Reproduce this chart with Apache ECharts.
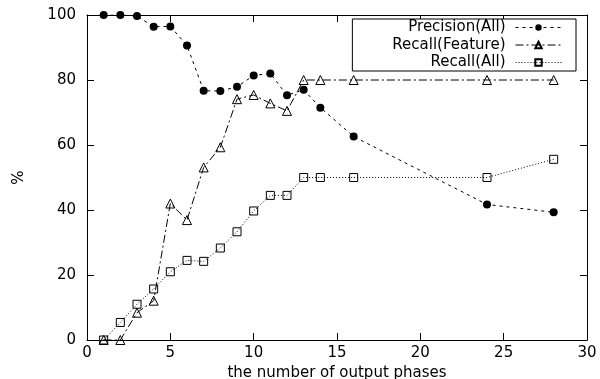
<!DOCTYPE html>
<html>
<head>
<meta charset="utf-8">
<script src="https://cdn.jsdelivr.net/npm/echarts@6/dist/echarts.min.js"></script>
<style>html,body{margin:0;padding:0;background:#fff;}#c{width:600px;height:379px;}</style>
</head>
<body>
<div id="c"></div>
<script>
const phases = [1, 2, 3, 4, 5, 6, 7, 8, 9, 10, 11, 12, 13, 14, 16, 24, 28];
const precisionAll = [100, 100, 99.7, 96.4, 96.5, 90.6, 76.7, 76.6, 77.9, 81.4, 82.0, 75.3, 77.0, 71.5, 62.6, 41.7, 39.3];
const recallFeature = [0, 0, 8.4, 12.1, 42.0, 36.9, 53.1, 59.3, 74.1, 75.4, 72.8, 70.5, 80, 80, 80, 80, 80];
const recallAll = [0, 5.4, 11.0, 15.7, 21.0, 24.5, 24.2, 28.3, 33.3, 39.7, 44.5, 44.5, 50, 50, 50, 50, 55.6];
const seriesNames = ['Precision(All)', 'Recall(Feature)', 'Recall(All)'];
const xTitle = 'the number of output phases';
const yTitle = '%';

const pairs = (ys) => phases.map((x, i) => [x, ys[i]]);
const FONT = 'DejaVu Sans';
const chart = echarts.init(document.getElementById('c'), null, {renderer: 'canvas'});
const axisCommon = {
  axisLine: {show: true, onZero: false, lineStyle: {color: '#000', width: 1}},
  axisTick: {show: true, inside: true, length: 7, lineStyle: {color: '#000', width: 1}},
  splitLine: {show: false}
};
chart.setOption({
  animation: false,
  backgroundColor: '#fff',
  grid: {left: 87, right: 13, top: 15, bottom: 39, show: false, containLabel: false, outerBoundsMode: 'none'},
  legend: {
    orient: 'vertical',
    align: 'right',
    right: 24,
    top: 19,
    data: seriesNames,
    itemWidth: 46,
    itemHeight: 8,
    itemGap: 2.5,
    padding: [1, 14, 1, 40],
    backgroundColor: '#fff',
    borderColor: '#000',
    borderWidth: 1,
    borderRadius: 0,
    lineStyle: {width: 1},
    textStyle: {fontFamily: FONT, fontSize: 15, color: '#000', padding: [0, 5, 0, 0]}
  },
  xAxis: [
    Object.assign({}, axisCommon, {
      type: 'value', min: 0, max: 30, interval: 5, position: 'bottom',
      name: xTitle, nameLocation: 'middle', nameGap: 18,
      nameTextStyle: {fontFamily: FONT, fontSize: 15, color: '#000'},
      axisLabel: {fontFamily: FONT, fontSize: 15, color: '#000', margin: 6}
    }),
    Object.assign({}, axisCommon, {
      type: 'value', min: 0, max: 30, interval: 5, position: 'top',
      axisLabel: {show: false}
    })
  ],
  yAxis: [
    Object.assign({}, axisCommon, {
      type: 'value', min: 0, max: 100, interval: 20, position: 'left',
      name: yTitle, nameLocation: 'middle', nameGap: 60,
      nameTextStyle: {fontFamily: FONT, fontSize: 15, color: '#000'},
      axisLabel: {fontFamily: FONT, fontSize: 15, color: '#000', margin: 11}
    }),
    Object.assign({}, axisCommon, {
      type: 'value', min: 0, max: 100, interval: 20, position: 'right',
      axisLabel: {show: false}
    })
  ],
  series: [
    {
      name: seriesNames[0], type: 'line', data: pairs(precisionAll),
      symbol: 'circle', symbolSize: 8,
      itemStyle: {color: '#000', borderColor: '#000', borderWidth: 0},
      lineStyle: {color: '#000', width: 1, type: [3, 4]},
      z: 3
    },
    {
      name: seriesNames[1], type: 'line', data: pairs(recallFeature),
      symbol: 'triangle', symbolSize: 9,
      itemStyle: {color: 'rgba(0,0,0,0)', borderColor: '#000', borderWidth: 1},
      lineStyle: {color: '#000', width: 1, type: [8, 3, 2, 3]},
      z: 2
    },
    {
      name: seriesNames[2], type: 'line', data: pairs(recallAll),
      symbol: 'rect', symbolSize: 8,
      itemStyle: {color: 'rgba(0,0,0,0)', borderColor: '#000', borderWidth: 1},
      lineStyle: {color: '#000', width: 1, type: [1, 2]},
      z: 1
    }
  ]
});
</script>
</body>
</html>
